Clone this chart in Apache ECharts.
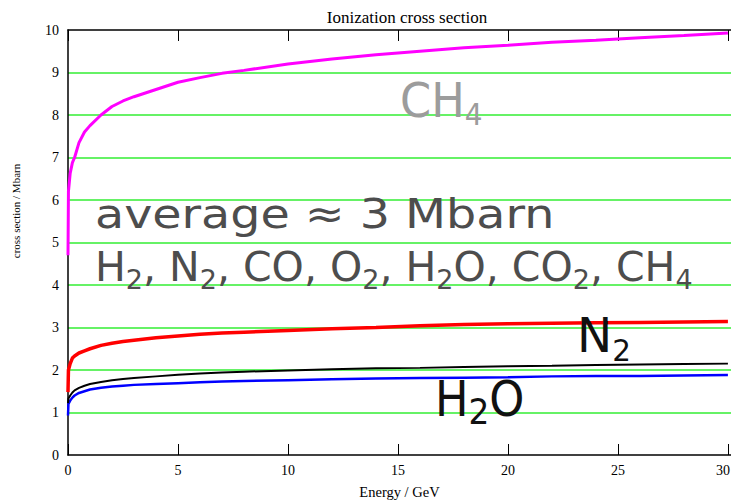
<!DOCTYPE html>
<html>
<head>
<meta charset="utf-8">
<script src="https://cdn.jsdelivr.net/npm/echarts@6/dist/echarts.min.js"></script>
<style>
  html, body { margin: 0; padding: 0; background: #fff; }
  #chart { width: 731px; height: 501px; }
</style>
</head>
<body>
<div id="chart"></div>
<script>
// Energy grid (GeV) shared by all curves
const energy = [0, 0.02, 0.1, 0.2, 0.3, 0.5, 0.75, 1, 1.5, 2, 2.5, 3, 4, 5, 6, 7, 8, 10, 12, 14, 16, 18, 20, 22, 24, 26, 28, 30];

// Ionization cross sections (Mbarn)
const ch4 = [4.7, 6.2, 6.63, 6.88, 7.0, 7.35, 7.6, 7.75, 8.0, 8.2, 8.33, 8.43, 8.6, 8.77, 8.88, 8.98, 9.05, 9.2, 9.32, 9.42, 9.5, 9.58, 9.64, 9.71, 9.76, 9.82, 9.87, 9.93];
const n2  = [1.48, 2.0, 2.15, 2.28, 2.33, 2.4, 2.45, 2.5, 2.58, 2.63, 2.67, 2.7, 2.76, 2.8, 2.84, 2.87, 2.89, 2.93, 2.97, 3.0, 3.04, 3.07, 3.09, 3.1, 3.11, 3.12, 3.13, 3.14];
const co  = [1.22, 1.33, 1.4, 1.47, 1.52, 1.58, 1.63, 1.67, 1.72, 1.76, 1.79, 1.81, 1.85, 1.89, 1.92, 1.94, 1.96, 1.99, 2.02, 2.04, 2.05, 2.07, 2.09, 2.1, 2.12, 2.13, 2.14, 2.15];
const h2o = [0.93, 1.2, 1.28, 1.35, 1.4, 1.46, 1.5, 1.54, 1.58, 1.61, 1.63, 1.65, 1.67, 1.69, 1.71, 1.73, 1.74, 1.76, 1.78, 1.8, 1.81, 1.82, 1.83, 1.85, 1.86, 1.86, 1.87, 1.88];

const xTicks = [0, 5, 10, 15, 20, 25, 30];
const yTicks = [0, 1, 2, 3, 4, 5, 6, 7, 8, 9, 10];

const serif = '"Liberation Serif", "DejaVu Serif", serif';
const hand = '"DejaVu Sans", "Noto Sans", sans-serif';

function pairs(ys) { return energy.map((e, i) => [e, ys[i]]); }

function curve(name, ys, color, width, z) {
  return {
    name, type: 'line', data: pairs(ys), showSymbol: false, smooth: false,
    lineStyle: { color, width }, z, silent: true, animation: false
  };
}

// text with a subscript: main run and smaller lowered run
function formula(text, x, y, color, mainSize, mainLine, subSize, subLine, sx) {
  return {
    type: 'text', x, y, z: 50, scaleX: sx, scaleY: 1,
    style: {
      text, fill: color, align: 'left', textAlign: 'left',
      verticalAlign: 'top', textVerticalAlign: 'top',
      rich: {
        m: { fontSize: mainSize, fontFamily: hand, lineHeight: mainLine, verticalAlign: 'middle', fill: color },
        s: { fontSize: subSize, fontFamily: hand, lineHeight: subLine, verticalAlign: 'bottom', fill: color }
      }
    }
  };
}

const lastTick = xTicks[xTicks.length - 1];

const chart = echarts.init(document.getElementById('chart'), null, { renderer: 'svg' });

chart.setOption({
  animation: false,
  backgroundColor: '#fff',
  title: {
    text: 'Ionization cross section', left: 402, top: 4, textAlign: 'center',
    textStyle: { fontFamily: serif, fontSize: 17, fontWeight: 'normal', color: '#000' }
  },
  grid: { left: 68, right: 0, top: 30, bottom: 46, containLabel: false, outerBoundsMode: 'none' },
  xAxis: [
    {
      type: 'value', position: 'bottom', min: xTicks[0], max: 30.14, interval: 5,
      name: 'Energy / GeV', nameLocation: 'middle', nameGap: 29,
      nameTextStyle: { fontFamily: serif, fontSize: 14.5, color: '#000' },
      axisLine: { show: true, onZero: false, lineStyle: { color: '#000', width: 1.5 } },
      axisTick: { show: true, inside: true, length: 11, lineStyle: { color: '#000', width: 1 } },
      axisLabel: {
        fontFamily: serif, fontSize: 14, color: '#000', margin: 8, showMaxLabel: false, hideOverlap: false,
        // the last label sits at the window edge: pad it so it stays inside
        formatter: v => !xTicks.includes(v) ? '' : (v === lastTick ? '{edge|' + v + '}' : String(v)),
        rich: { edge: { fontFamily: serif, fontSize: 14, color: '#000', padding: [0, 10, 0, 0] } }
      },
      splitLine: { show: false }
    },
    {
      type: 'value', position: 'top', min: xTicks[0], max: 30.14, interval: 5,
      axisLine: { show: true, onZero: false, lineStyle: { color: '#000', width: 1.5 } },
      axisTick: { show: true, inside: true, length: 11, lineStyle: { color: '#000', width: 1 } },
      axisLabel: { show: false },
      splitLine: { show: false }
    }
  ],
  yAxis: {
    type: 'value', min: yTicks[0], max: yTicks[yTicks.length - 1], interval: 1,
    axisLine: { show: true, onZero: false, lineStyle: { color: '#000', width: 1.5 } },
    axisTick: { show: false },
    axisLabel: { fontFamily: serif, fontSize: 14, color: '#000', margin: 9 },
    splitLine: { show: true, showMinLine: false, showMaxLine: false, lineStyle: { color: '#33ee33', width: 1.5 } }
  },
  series: [
    curve('CH4', ch4, '#ff00ff', 3, 4),
    curve('N2', n2, '#ff0000', 3.5, 4),
    curve('CO', co, '#000000', 2, 5),
    curve('H2O', h2o, '#0000ff', 2.5, 4)
  ],
  graphic: [
    {
      type: 'text', x: 16, y: 211, rotation: Math.PI / 2, z: 50,
      style: { text: 'cross section / Mbarn', font: '11px ' + serif, fill: '#000',
        align: 'center', textAlign: 'center', verticalAlign: 'middle', textVerticalAlign: 'middle' }
    },
    formula('{m|average ≈ 3 Mbarn}', 95, 188, '#4d4d4d', 41, 52, 27, 22, 1.16),
    formula('{m|H}{s|2}{m|, N}{s|2}{m|, CO, O}{s|2}{m|, H}{s|2}{m|O, CO}{s|2}{m|, CH}{s|4}', 95, 241, '#4d4d4d', 41, 52, 27, 22, 1),
    formula('{m|CH}{s|4}', 400, 70, '#9c9c9c', 48, 60, 30, 20, 0.93),
    formula('{m|N}{s|2}', 577, 305, '#111111', 48, 60, 30, 24, 0.98),
    formula('{m|H}{s|2}{m|O}', 435, 369, '#111111', 49, 60, 36, 27, 0.91)
  ]
});
</script>
</body>
</html>
